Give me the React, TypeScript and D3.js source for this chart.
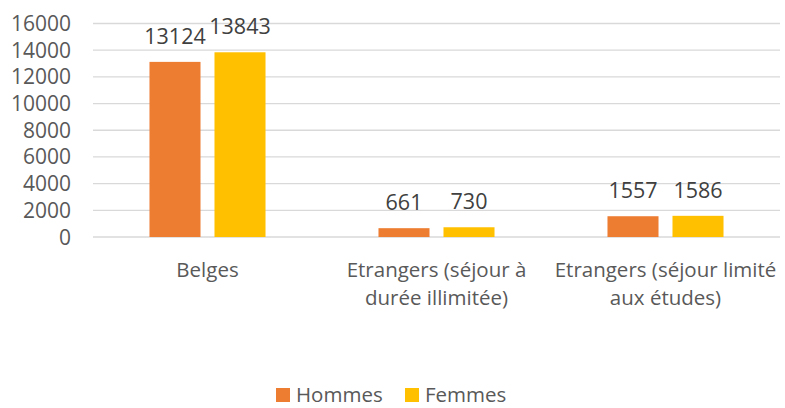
import React from 'react';
import * as d3 from 'd3';

const categories = ['Belges', 'Etrangers (séjour à durée illimitée)', 'Etrangers (séjour limité aux études)'];
const categoryLines = [['Belges'], ['Etrangers (séjour à', 'durée illimitée)'], ['Etrangers (séjour limité', 'aux études)']];
const series = ['Hommes', 'Femmes'];
const hommes = [13124, 661, 1557];
const femmes = [13843, 730, 1586];
const yTicks = [0, 2000, 4000, 6000, 8000, 10000, 12000, 14000, 16000];
const colors = ['#ED7D31', '#FFC000'];

const FONT = '"Open Sans", "Liberation Sans", sans-serif';

export default function App() {
  const width = 785;
  const height = 408;
  const left = 93, right = 780, top = 23.5, bottom = 237;

  const x0 = d3.scaleBand().domain(categories).range([left, right]).padding(0);
  const x1 = d3.scaleBand().domain(series).range([0, x0.bandwidth()]).paddingInner(0.215).paddingOuter(0.869);
  const y = d3.scaleLinear().domain([0, 16000]).range([bottom, top]);

  const values = [hommes, femmes];

  return (
    <svg width={width} height={height} style={{ position: 'absolute', left: 0, top: 0, background: '#fff' }} fontFamily={FONT}>
      {yTicks.map(t => (
        <g key={t}>
          <line x1={left} x2={right} y1={y(t)} y2={y(t)} stroke="#D9D9D9" strokeWidth={1.3} />
          <text x={71} y={y(t)} dy="0.36em" textAnchor="end" fontSize={21} fill="#595959">{t}</text>
        </g>
      ))}
      {categories.map((c, i) => (
        <g key={c} transform={'translate(' + x0(c) + ',0)'}>
          {series.map((s, j) => {
            const v = values[j][i];
            const bx = x1(s) as number;
            return (
              <g key={s}>
                <rect x={bx} y={y(v)} width={x1.bandwidth()} height={bottom - y(v)} fill={colors[j]} />
                <text x={bx + x1.bandwidth() / 2} y={y(v) - 18} textAnchor="middle" fontSize={21.5} fill="#404040">{v}</text>
              </g>
            );
          })}
          {categoryLines[i].map((line, k) => (
            <text key={k} x={x0.bandwidth() / 2} y={277 + k * 28} textAnchor="middle" fontSize={20.5} fill="#595959">{line}</text>
          ))}
        </g>
      ))}
      {series.map((s, j) => (
        <g key={s} transform={'translate(' + (j === 0 ? 276 : 405) + ',0)'}>
          <rect x={0} y={388} width={14} height={14} fill={colors[j]} />
          <text x={20} y={402} fontSize={20.5} fill="#595959">{s}</text>
        </g>
      ))}
    </svg>
  );
}
